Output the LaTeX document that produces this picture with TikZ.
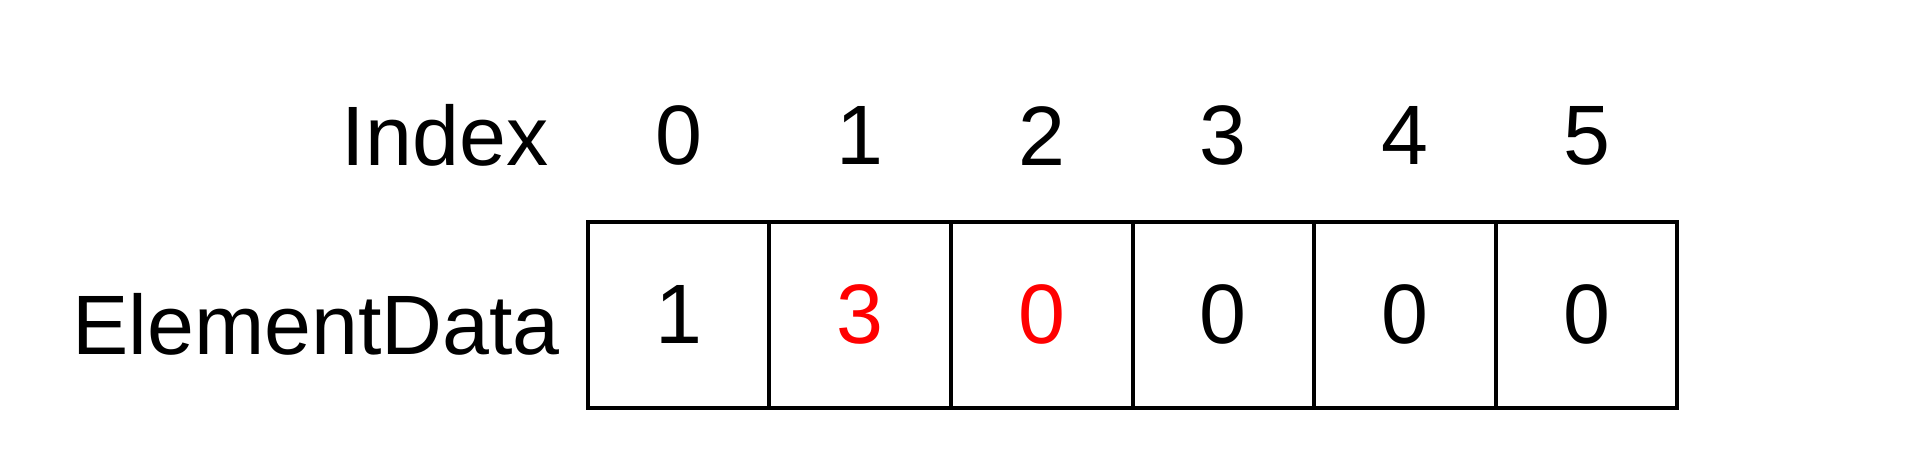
\documentclass[tikz,border=0pt]{standalone}
\usepackage{fontspec}
\setmainfont{Liberation Sans}
\usetikzlibrary{positioning}

\begin{document}
\begin{tikzpicture}[node distance=1.816cm,on grid,
    font=\fontsize{24}{29}\selectfont,
    cell/.style={draw, line width=1.1pt, minimum width=1.816cm, minimum height=1.862cm, inner sep=0pt, outer sep=0pt},
    changed/.style={text=red},
    lbl/.style={inner sep=0pt}]
            \useasboundingbox (0,0) rectangle (19.2,4.7);
            % array cells
            \node[cell](c0) at (6.786,1.553){1};
            \node[cell, changed, right=of c0](c1){3};
            \node[cell, changed, right=of c1](c2){0};
            \node[cell, right=of c2](c3){0};
            \node[cell, right=of c3](c4){0};
            \node[cell, right=of c4](c5){0};
            % index row
            \node[lbl, above=1.79cm of c0](i0){0};
            \node[lbl, above=1.79cm of c1](i1){1};
            \node[lbl, above=1.79cm of c2](i2){2};
            \node[lbl, above=1.79cm of c3](i3){3};
            \node[lbl, above=1.79cm of c4](i4){4};
            \node[lbl, above=1.79cm of c5](i5){5};
            % row labels
            \node[lbl, left=2.335cm of i0](index){Index};
            \node[lbl, below left=0.1cm and 3.626cm of c0](data){ElementData};
        \end{tikzpicture}
\end{document}
